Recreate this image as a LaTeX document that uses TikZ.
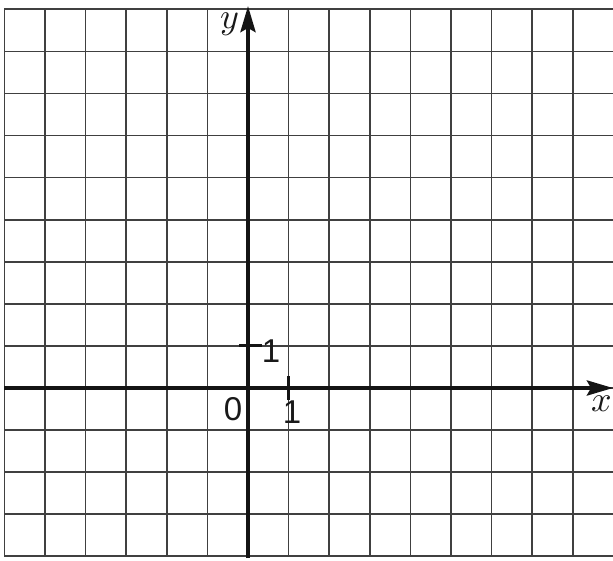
\documentclass[tikz,border=0pt]{standalone}
\usepackage{fontspec}
\setsansfont{Liberation Sans}
\newfontfamily\lmmath{Latin Modern Math}
\usetikzlibrary{arrows.meta}
\tikzset{
  gridline/.style={draw=black!75, line width=1.7pt},
  axisline/.style={draw=black!92, line width=4pt, -{Stealth[length=26pt,width=15pt,inset=4pt]}},
  ticks/.style={draw=black!92, line width=3pt},
  numlabel/.style={font=\sffamily\fontsize{33}{36}\selectfont, text=black!90, inner sep=0pt},
  varlabel/.style={font=\lmmath\fontsize{36}{38}\selectfont, text=black!90, inner sep=0pt}
}
\begin{document}
\begin{tikzpicture}[x=1pt,y=-1pt]
\useasboundingbox (0,0) rectangle (613,561);
\fill[white] (0,0) rectangle (613,561);
% grid
\foreach \k in {-6,...,8} {
  \draw[gridline] ({248+40.6*\k},9.5) -- ({248+40.6*\k},557);
}
\foreach \m in {-9,...,4} {
  \draw[gridline] (4.4,{388+42.08*\m}) -- (613,{388+42.08*\m});
}
% axes
\coordinate (xs) at (4,388);
\coordinate (xe) at (613,388);
\coordinate (ys) at (248,558);
\coordinate (ye) at (248,6);
\draw[axisline] (xs) -- (xe);
\draw[axisline] (ys) -- (ye);
% ticks
\coordinate (tx1) at (288.6,376);
\coordinate (tx2) at (288.6,400);
\coordinate (ty1) at (239,345.9);
\coordinate (ty2) at (262,345.9);
\draw[ticks] (tx1) -- (tx2);
\draw[ticks] (ty1) -- (ty2);
% labels
\node[varlabel] (ylab) at (229,24) {\char"1D466};
\node[varlabel, anchor=east] (xlab) at (612,404) {\char"1D465};
\node[numlabel] (zero) at (233,409) {0};
\node[numlabel] (onex) at (292,412) {1};
\node[numlabel] (oney) at (271,351) {1};
\end{tikzpicture}
\end{document}
